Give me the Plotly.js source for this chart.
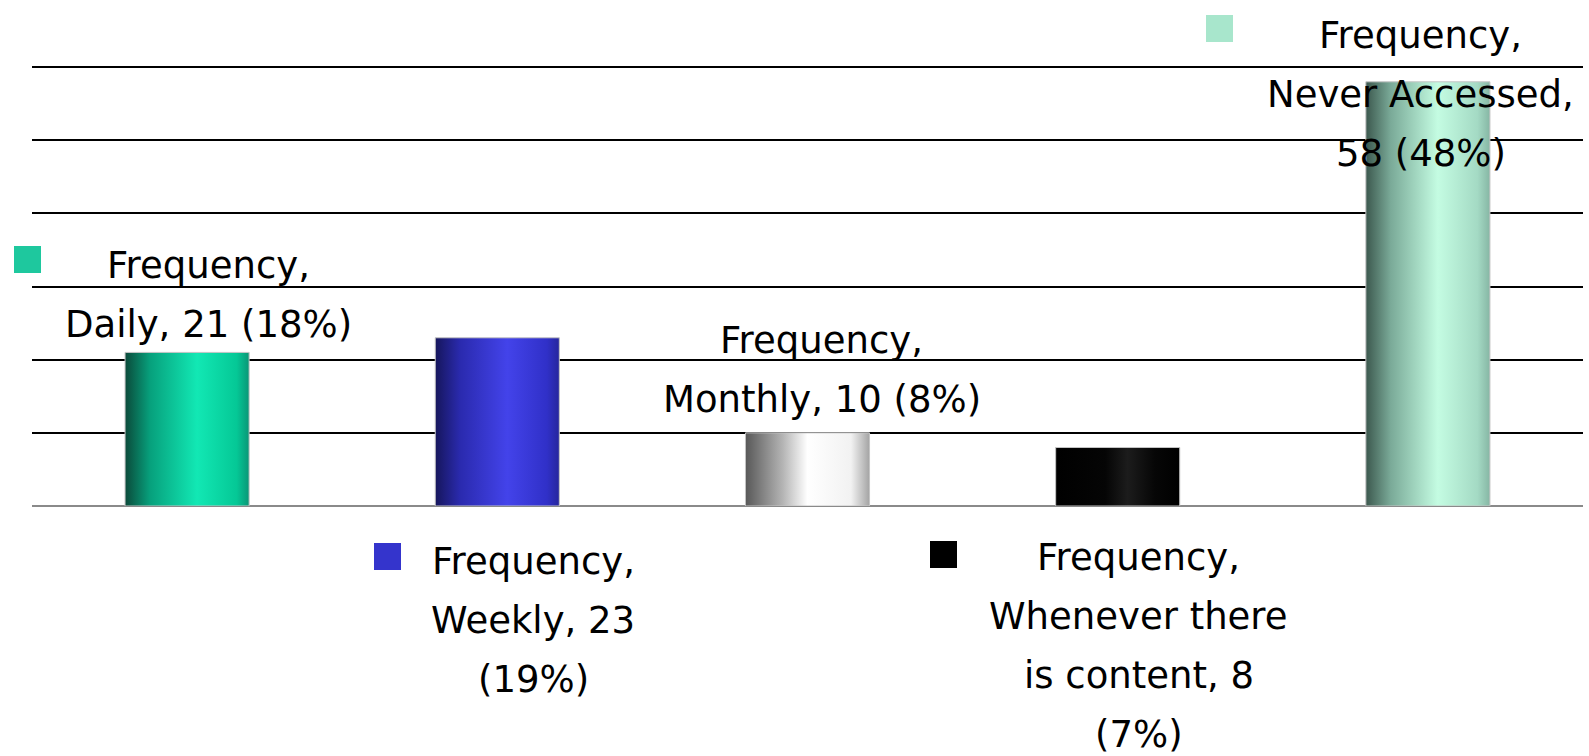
<!DOCTYPE html>
<html>
<head>
<meta charset="utf-8">
<script src="https://cdn.plot.ly/plotly-3.0.1.min.js"></script>
<style>
  html, body { margin: 0; padding: 0; background: #ffffff; }
  #chart { width: 1589px; height: 756px; }
</style>
</head>
<body>
<div id="chart"></div>
<script>
// ---- data ----
const categories = ["Daily", "Weekly", "Monthly", "Whenever there is content", "Never Accessed"];
const frequency = [21, 23, 10, 8, 58];
const percents = [18, 19, 8, 7, 48];
const labelLines = [
  ["Frequency,", "Daily, 21 (18%)"],
  ["Frequency,", "Weekly, 23", "(19%)"],
  ["Frequency,", "Monthly, 10 (8%)"],
  ["Frequency,", "Whenever there", "is content, 8", "(7%)"],
  ["Frequency,", "Never Accessed,", "58 (48%)"]
];
const keyColors = ["#1ec89e", "#3434cc", "#ffffff", "#000000", "#a8e6cc"];

// ---- styling / placement ----
const gradients = [
  [[0, "#0b4a3a"], [0.2, "#07a07c"], [0.58, "#12e8b4"], [0.9, "#05c896"], [1, "#0a9676"]],
  [[0, "#16165c"], [0.2, "#2a2aae"], [0.58, "#4343ea"], [0.9, "#3030c8"], [1, "#26269c"]],
  [[0, "#585858"], [0.3, "#b4b4b4"], [0.5, "#ffffff"], [0.85, "#f2f2f2"], [1, "#a4a4a4"]],
  [[0, "#000000"], [0.4, "#050505"], [0.58, "#1c1c1c"], [0.8, "#060606"], [1, "#000000"]],
  [[0, "#3c584e"], [0.2, "#7aaa98"], [0.58, "#c4fce2"], [0.9, "#a4dac4"], [1, "#86b6a4"]]
];
// anchor: "top" = bar top, "base" = y=0 ; dx = horizontal shift ; y1 = first line shift
const labelPlace = [
  {anchor: "top",  dx: 21,   y1: 87},
  {anchor: "base", dx: 36,   y1: -55},
  {anchor: "top",  dx: 14,   y1: 92},
  {anchor: "base", dx: 21,   y1: -51},
  {anchor: "top",  dx: -7,   y1: 46}
];
const keyPlace = [
  {dx: -160, dy: 93},
  {dx: -110, dy: -50},
  null,
  {dx: -174, dy: -48},
  {dx: -208, dy: 53}
];
const lineStep = 59;
const keySize = 27;
const FONT = "DejaVu Sans, sans-serif";

const xIdx = categories.map((c, i) => i);

const annotations = [];
labelLines.forEach((lines, i) => {
  const p = labelPlace[i];
  const yAnchor = p.anchor === "top" ? frequency[i] : 0;
  lines.forEach((t, k) => {
    annotations.push({
      x: xIdx[i], y: yAnchor, xref: "x", yref: "y",
      text: t, showarrow: false,
      xanchor: "center", yanchor: "middle",
      xshift: p.dx, yshift: p.y1 - k * lineStep,
      font: {family: FONT, size: 37, color: "#000000"}
    });
  });
  const kp = keyPlace[i];
  if (kp) {
    annotations.push({
      x: xIdx[i], y: yAnchor, xref: "x", yref: "y",
      text: " ", showarrow: false,
      xanchor: "center", yanchor: "middle",
      xshift: kp.dx, yshift: kp.dy,
      width: keySize, height: keySize,
      borderpad: 0, borderwidth: 0,
      bgcolor: keyColors[i],
      font: {family: FONT, size: 10}
    });
  }
});

const trace = {
  type: "bar",
  x: xIdx,
  y: frequency,
  width: 0.4,
  marker: {color: keyColors, line: {color: "#c4c4c4", width: 1}},
  hoverinfo: "skip"
};

const layout = {
  width: 1589, height: 756,
  margin: {l: 32, r: 6, t: 65, b: 250, pad: 0},
  paper_bgcolor: "#ffffff", plot_bgcolor: "#ffffff",
  showlegend: false,
  xaxis: {
    type: "linear", range: [-0.5, 4.5],
    showgrid: false, zeroline: false,
    showticklabels: false, ticks: "",
    showline: false, fixedrange: true
  },
  yaxis: {
    range: [0, 60.3], dtick: 10, tick0: 0,
    showgrid: true, gridcolor: "#000000", gridwidth: 2,
    zeroline: true, zerolinecolor: "#8a8a8a", zerolinewidth: 2.6,
    showticklabels: false, ticks: "", showline: false, fixedrange: true
  },
  annotations: annotations
};

Plotly.newPlot("chart", [trace], layout, {displayModeBar: false, staticPlot: true}).then(gd => {
  const NS = "http://www.w3.org/2000/svg";
  const svg = gd.querySelector("svg.main-svg");
  let defs = svg.querySelector("defs");
  if (!defs) { defs = document.createElementNS(NS, "defs"); svg.insertBefore(defs, svg.firstChild); }
  gradients.forEach((stops, i) => {
    const lg = document.createElementNS(NS, "linearGradient");
    lg.setAttribute("id", "bargrad" + i);
    lg.setAttribute("x1", "0"); lg.setAttribute("y1", "0");
    lg.setAttribute("x2", "1"); lg.setAttribute("y2", "0");
    stops.forEach(([o, c]) => {
      const s = document.createElementNS(NS, "stop");
      s.setAttribute("offset", o);
      s.setAttribute("stop-color", c);
      lg.appendChild(s);
    });
    defs.appendChild(lg);
  });
  const paths = gd.querySelectorAll(".barlayer .trace .point path");
  paths.forEach((p, i) => { p.style.fill = "url(#bargrad" + i + ")"; });
});
</script>
</body>
</html>
